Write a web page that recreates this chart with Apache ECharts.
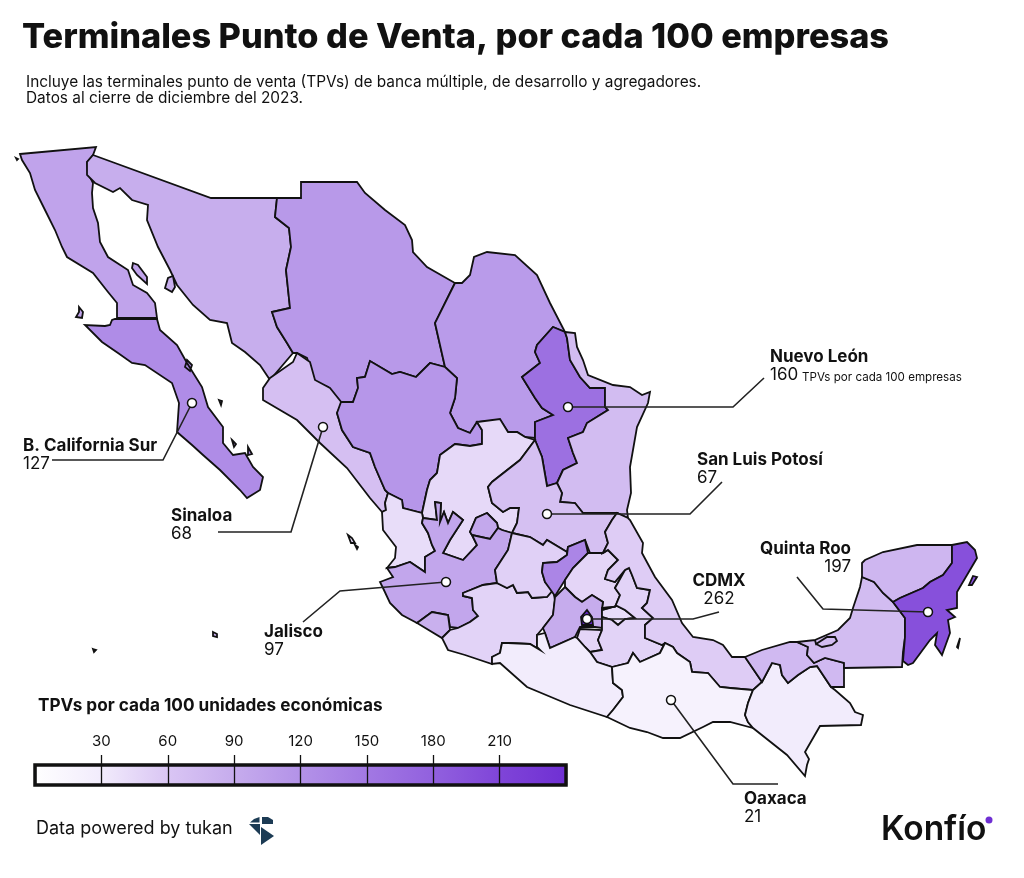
<!DOCTYPE html>
<html>
<head>
<meta charset="utf-8">
<title>Terminales Punto de Venta</title>
<script src="https://cdn.jsdelivr.net/npm/echarts@6/dist/echarts.min.js"></script>
<style>
  html, body { margin: 0; background: #fff; }
  #chart { width: 1024px; height: 878px; }
</style>
</head>
<body>
<div id="chart"></div>
<script>
const stateNames = ["Baja California", "Baja California Sur", "Sonora", "Chihuahua", "Coahuila", "Nuevo León", "Tamaulipas", "Sinaloa", "Durango", "Zacatecas", "Nayarit", "Aguascalientes", "San Luis Potosí", "Jalisco", "Colima", "Michoacán", "Guanajuato", "Querétaro", "Hidalgo", "México", "Morelos", "Tlaxcala", "Puebla", "Veracruz", "Guerrero", "Oaxaca", "Chiapas", "Tabasco", "Campeche", "Yucatán", "Quintana Roo", "CDMX"]
const stateValues = [100, 127, 88, 112, 110, 160, 72, 68, 115, 45, 42, 95, 67, 97, 85, 50, 52, 135, 48, 90, 48, 42, 50, 55, 30, 21, 30, 75, 72, 78, 197, 262]

const calloutNames = ["Nuevo León", "San Luis Potosí", "Quinta Roo", "CDMX", "B. California Sur", "Sinaloa", "Jalisco", "Oaxaca"]
const calloutValues = [160, 67, 197, 262, 127, 68, 97, 21]

const legendTicks = [30, 60, 90, 120, 150, 180, 210]
const scaleColors = ["#ffffff", "#f2ecfc", "#dac6f4", "#c6aced", "#b392e8", "#a278e3", "#9160de", "#7f44d8", "#6f2fd3", "#6528cc"]

// contornos de los estados, en pixeles de la imagen
const shapes = {
  "Baja California": [
    [[20,154],[96,147],[93,155],[87,162],[88,173],[93,183],[92,193],[93,208],[98,223],[100,242],[108,257],[128,270],[133,285],[147,293],[155,303],[157,318],[117,318],[117,303],[108,292],[93,273],[67,257],[62,247],[55,230],[45,210],[35,190],[30,173],[22,160]],
    [[133,263],[138,265],[147,277],[147,284],[137,275],[132,268]],
    [[79,307],[83,312],[82,318],[76,317],[79,312]],
    [[16,158],[17,157],[18,159],[17,160]]
  ],
  "Baja California Sur": [
    [[115,319],[157,319],[160,330],[177,345],[187,363],[202,387],[208,407],[223,427],[223,443],[233,455],[245,453],[253,467],[263,477],[260,490],[247,498],[240,490],[220,470],[203,455],[192,445],[177,432],[179,403],[172,383],[145,365],[132,363],[118,353],[102,342],[85,325],[105,326],[110,325],[112,320]],
    [[187,360],[192,365],[190,371],[185,367]],
    [[232,440],[236,444],[234,447]],
    [[248,447],[252,454],[248,455]],
    [[219,400],[222,401],[221,405]]
  ],
  "Sonora": [
    [[93,155],[211,198],[277,198],[275,217],[289,228],[291,247],[286,270],[290,308],[272,312],[277,327],[287,343],[293,353],[270,380],[260,365],[245,352],[232,343],[227,323],[210,320],[193,305],[177,285],[170,270],[158,247],[147,220],[148,205],[132,200],[120,188],[113,192],[95,183],[87,175],[87,162]],
    [[173,276],[175,287],[172,292],[165,288],[168,278]]
  ],
  "Chihuahua": [
    [[277,198],[301,198],[301,182],[357,182],[365,193],[385,210],[405,225],[412,240],[413,252],[427,267],[455,283],[435,323],[445,367],[430,363],[416,377],[400,372],[392,374],[370,361],[365,377],[357,378],[358,388],[353,402],[341,402],[328,387],[315,382],[307,358],[297,353],[293,353],[287,343],[277,327],[272,312],[290,308],[286,270],[291,247],[289,228],[275,217]]
  ],
  "Coahuila": [
    [[455,283],[462,283],[470,275],[474,257],[487,252],[515,255],[537,275],[550,303],[565,332],[553,327],[537,345],[535,352],[540,363],[522,377],[535,398],[542,408],[553,415],[535,422],[535,438],[525,437],[517,432],[508,432],[500,420],[477,422],[470,433],[458,428],[450,413],[455,398],[457,378],[445,367],[435,323]]
  ],
  "Nuevo León": [
    [[553,327],[565,332],[567,338],[570,360],[580,377],[590,388],[605,388],[605,407],[608,410],[587,423],[583,432],[568,438],[573,453],[577,463],[563,470],[557,483],[547,486],[542,457],[535,440],[535,422],[553,415],[542,408],[535,398],[522,377],[540,363],[535,352],[537,345]]
  ],
  "Tamaulipas": [
    [[565,332],[575,333],[577,347],[583,360],[588,375],[613,385],[630,387],[642,395],[650,392],[648,403],[637,427],[630,467],[631,493],[627,510],[628,518],[617,513],[583,513],[575,503],[560,502],[562,493],[557,483],[563,470],[577,463],[573,453],[568,438],[583,432],[587,423],[608,410],[605,407],[605,388],[590,388],[580,377],[570,360],[567,338]]
  ],
  "Sinaloa": [
    [[270,378],[293,362],[297,353],[310,362],[315,380],[330,388],[342,403],[337,413],[342,430],[353,447],[370,453],[375,467],[385,490],[388,493],[385,503],[386,510],[382,512],[370,498],[347,468],[320,443],[297,420],[263,400],[263,388]]
  ],
  "Durango": [
    [[341,402],[353,402],[358,388],[357,378],[365,377],[370,361],[392,374],[400,372],[416,377],[430,363],[445,367],[457,378],[455,398],[450,413],[458,428],[470,433],[477,422],[482,430],[482,444],[470,446],[455,444],[440,455],[437,473],[430,480],[427,490],[422,513],[403,508],[402,500],[388,493],[385,490],[375,467],[370,453],[353,447],[342,430],[337,413]]
  ],
  "Zacatecas": [
    [[477,422],[500,419],[508,432],[517,432],[525,437],[535,440],[520,460],[492,482],[488,487],[492,503],[503,512],[510,508],[519,508],[517,523],[512,533],[502,530],[498,528],[497,523],[487,513],[476,518],[470,532],[472,535],[477,545],[463,560],[443,553],[450,540],[463,520],[453,512],[448,523],[444,512],[440,522],[441,503],[435,502],[437,520],[423,518],[422,513],[427,490],[430,480],[437,473],[440,455],[455,444],[470,446],[482,444],[482,430]]
  ],
  "Nayarit": [
    [[388,493],[402,500],[403,508],[422,513],[423,518],[422,523],[428,533],[432,545],[435,551],[425,557],[425,572],[410,562],[395,567],[387,568],[395,558],[396,547],[383,530],[382,512],[386,510],[385,503]],
    [[348,535],[352,538],[355,543],[351,543]],
    [[355,545],[358,547],[357,549]]
  ],
  "Aguascalientes": [
    [[487,513],[497,523],[498,528],[490,539],[472,535],[470,532],[476,518]]
  ],
  "San Luis Potosí": [
    [[535,440],[542,457],[547,486],[557,483],[562,493],[560,502],[575,503],[583,513],[617,513],[612,520],[605,532],[608,543],[603,553],[590,553],[585,540],[568,547],[567,552],[547,540],[543,545],[530,537],[512,533],[517,523],[519,508],[510,508],[503,512],[492,503],[488,487],[492,482],[520,460]]
  ],
  "Jalisco": [
    [[380,582],[393,577],[387,568],[395,567],[410,562],[425,572],[425,557],[435,551],[432,545],[428,533],[422,523],[423,518],[437,520],[435,502],[441,503],[440,522],[444,512],[448,523],[453,512],[463,520],[450,540],[443,553],[463,560],[477,545],[472,535],[490,539],[498,528],[502,530],[512,533],[508,550],[495,570],[497,583],[483,585],[463,593],[463,596],[472,598],[473,610],[478,616],[470,622],[458,628],[450,627],[448,615],[432,612],[417,623],[402,615],[390,603],[383,588]]
  ],
  "Colima": [
    [[417,623],[432,612],[448,615],[450,630],[442,638]],
    [[213,632],[217,634],[217,637],[213,636]],
    [[93,649],[96,650],[94,652]]
  ],
  "Michoacán": [
    [[497,583],[507,588],[513,585],[517,593],[528,592],[532,598],[547,597],[553,590],[555,600],[553,615],[543,628],[537,635],[537,647],[540,650],[530,644],[508,643],[502,643],[500,653],[492,657],[492,664],[465,655],[448,650],[442,638],[450,630],[458,628],[470,622],[478,616],[473,610],[472,598],[463,596],[463,593],[483,585]]
  ],
  "Guanajuato": [
    [[512,533],[530,537],[543,545],[547,540],[567,552],[567,555],[557,562],[543,563],[542,572],[545,582],[553,590],[547,597],[532,598],[528,592],[517,593],[513,585],[507,588],[497,583],[495,570],[508,550]]
  ],
  "Querétaro": [
    [[543,563],[557,562],[567,555],[568,547],[585,540],[588,553],[573,568],[565,580],[555,596],[545,582],[542,572]]
  ],
  "Hidalgo": [
    [[588,553],[603,553],[608,550],[618,560],[608,570],[605,579],[615,582],[625,570],[615,588],[620,595],[615,607],[602,608],[603,602],[592,595],[582,602],[575,597],[565,587],[565,580],[573,568]]
  ],
  "México": [
    [[565,587],[575,597],[582,602],[592,595],[603,602],[602,608],[602,628],[595,627],[580,627],[575,637],[550,648],[545,633],[543,628],[553,615],[555,597]]
  ],
  "Morelos": [
    [[580,629],[602,630],[598,640],[602,650],[590,652],[585,647],[577,638]]
  ],
  "Tlaxcala": [
    [[602,610],[617,606],[625,610],[635,618],[625,619],[618,625],[612,620],[602,617]]
  ],
  "Puebla": [
    [[625,570],[629,568],[632,575],[637,588],[650,590],[647,603],[642,608],[653,618],[645,625],[645,638],[662,645],[665,643],[660,653],[640,662],[633,653],[628,663],[612,667],[597,662],[590,652],[602,650],[598,640],[602,630],[602,617],[612,620],[618,625],[625,619],[635,618],[625,610],[617,606],[602,610],[602,608],[615,607],[620,595],[615,588]]
  ],
  "Veracruz": [
    [[617,513],[628,518],[630,520],[643,543],[642,553],[655,577],[672,600],[682,623],[693,637],[713,640],[723,645],[732,657],[745,657],[762,682],[753,690],[730,688],[720,687],[708,673],[692,672],[690,662],[677,653],[673,647],[665,643],[662,645],[645,638],[645,625],[653,618],[642,608],[647,603],[650,590],[637,588],[632,575],[629,568],[625,570],[615,582],[605,579],[608,570],[618,560],[608,550],[603,553],[608,543],[605,532],[612,520]]
  ],
  "Guerrero": [
    [[492,664],[492,657],[500,653],[502,643],[508,643],[530,644],[540,650],[537,647],[537,635],[545,633],[550,648],[575,637],[577,638],[585,647],[590,652],[597,662],[612,667],[613,683],[622,690],[623,697],[613,710],[607,717],[570,705],[527,687],[500,663]]
  ],
  "Oaxaca": [
    [[612,667],[628,663],[633,653],[640,662],[660,653],[665,643],[673,647],[677,653],[690,662],[692,672],[708,673],[720,687],[730,688],[753,690],[748,703],[745,715],[748,722],[753,728],[730,722],[713,722],[703,727],[680,738],[663,738],[647,732],[630,728],[607,717],[613,710],[623,697],[622,690],[613,683]]
  ],
  "Chiapas": [
    [[753,690],[762,682],[772,663],[780,665],[782,675],[788,683],[798,675],[810,667],[817,666],[831,687],[835,690],[850,703],[855,712],[863,715],[861,725],[820,726],[805,752],[809,759],[807,765],[805,776],[787,755],[753,728],[748,722],[745,715],[748,703]]
  ],
  "Tabasco": [
    [[745,657],[762,650],[790,642],[797,642],[808,647],[807,655],[814,663],[825,658],[844,663],[844,687],[831,687],[817,666],[810,667],[798,675],[788,683],[782,675],[780,665],[772,663],[762,682]]
  ],
  "Campeche": [
    [[797,642],[815,640],[816,644],[827,637],[835,637],[837,641],[832,645],[822,647],[816,644],[815,640],[838,630],[850,618],[853,608],[860,587],[862,577],[874,582],[883,593],[893,602],[905,618],[905,637],[903,652],[902,667],[844,668],[844,663],[825,658],[814,663],[807,655],[808,647]]
  ],
  "Yucatán": [
    [[862,563],[865,560],[883,552],[917,545],[952,545],[952,563],[943,575],[930,582],[923,588],[900,598],[893,602],[883,593],[874,582],[862,577]]
  ],
  "Quintana Roo": [
    [[952,545],[967,542],[975,550],[977,558],[967,575],[957,592],[957,608],[947,610],[955,617],[948,620],[950,633],[942,655],[935,645],[937,633],[930,640],[913,663],[908,665],[903,661],[905,637],[905,618],[893,602],[900,598],[923,588],[930,582],[943,575],[952,563]],
    [[972,585],[977,577],[973,576],[969,585]],
    [[960,638],[961,639],[958,648],[957,647]]
  ],
  "CDMX": [
    [[587,610],[592,617],[593,625],[582,625],[581,617]]
  ]
}

// marcador del estado y linea guia de cada etiqueta
const calloutPoints = [[568,407],[547,514],[928,612],[587,619],[192,403],[323,427],[446,582],[671,700]]
const calloutLines = [
  [[568,407],[733,407],[764,378]],
  [[547,514],[690,514],[722,482]],
  [[928,612],[823,609],[797,577]],
  [[587,619],[693,619],[719,612]],
  [[192,403],[163,460],[52,460]],
  [[323,427],[291,532],[218,532]],
  [[446,582],[340,591],[303,622]],
  [[671,700],[733,784],[778,784]]
]
const calloutText = [[770,357,"left"],[697,460,"left"],[851,549,"right"],[719,581,"center"],[23,446,"left"],[171,516,"left"],[264,632,"left"],[744,799,"left"]]

const features = stateNames.map(name => ({
  type: "Feature",
  properties: { name },
  geometry: {
    type: "MultiPolygon",
    coordinates: shapes[name].map(ring => [ring])
  }
}))
echarts.registerMap("mexico", { type: "FeatureCollection", features })

const fontName = "Inter"
const ink = "#111111"

const txt = (text, x, y, size, weight, align) => ({
  type: "text",
  x, y,
  silent: true,
  z: 20,
  style: {
    text,
    fill: ink,
    fontFamily: fontName,
    fontSize: size,
    fontWeight: weight,
    align: align || "left",
    verticalAlign: "middle"
  }
})

const calloutGraphics = []
calloutNames.forEach((name, i) => {
  const [x, y, align] = calloutText[i]
  calloutGraphics.push(txt(name, x, y, 17, 700, align))
  calloutGraphics.push(txt(String(calloutValues[i]), x, y + 18, 17, 400, align))
})

const poly = (points, fill) => ({
  type: "polygon",
  silent: true,
  shape: { points },
  style: { fill }
})

const chart = echarts.init(document.getElementById("chart"), null, { renderer: "canvas" })
chart.setOption({
  animation: false,
  backgroundColor: "#ffffff",
  visualMap: {
    show: false,
    type: "continuous",
    seriesIndex: 0,
    min: 0,
    max: 270,
    inRange: { color: scaleColors }
  },
  geo: {
    map: "mexico",
    silent: true,
    roam: false,
    aspectScale: 1,
    projection: { project: p => p, unproject: p => p },
    boundingCoords: [[0, 0], [1024, 878]],
    left: 0, top: 0, width: 1024, height: 878,
    itemStyle: { borderColor: ink, borderWidth: 1.8 },
    emphasis: { disabled: true },
    label: { show: false }
  },
  // la barra de la escala y, encima, la franja de marcas con sus numeros
  grid: [
    {
      show: true,
      left: 35, top: 765, width: 531, height: 20,
      borderColor: ink,
      borderWidth: 3.5,
      backgroundColor: new echarts.graphic.LinearGradient(0, 0, 1, 0,
        scaleColors.slice(0, 9).map((color, i) => ({ offset: i / 8, color })))
    },
    { left: 35, top: 755, width: 531, height: 10 }
  ],
  xAxis: [
    {
      gridIndex: 0,
      type: "value",
      min: 0,
      max: 240,
      interval: 30,
      axisLine: { show: false },
      axisTick: { show: false },
      axisLabel: { show: false },
      splitLine: { show: true, lineStyle: { color: ink, width: 1.3 } }
    },
    {
      gridIndex: 1,
      type: "value",
      position: "top",
      min: 0,
      max: 240,
      interval: 30,
      axisLine: { show: false },
      axisTick: { show: false },
      axisLabel: { customValues: legendTicks, margin: 6, color: ink, fontFamily: fontName, fontSize: 15 },
      splitLine: { show: true, showMinLine: false, showMaxLine: false, lineStyle: { color: ink, width: 1.3 } }
    }
  ],
  yAxis: [
    { gridIndex: 0, type: "value", show: false },
    { gridIndex: 1, type: "value", show: false }
  ],
  series: [
    {
      type: "map",
      geoIndex: 0,
      silent: true,
      data: stateNames.map((name, i) => ({ name, value: stateValues[i] }))
    },
    {
      type: "lines",
      coordinateSystem: "geo",
      polyline: true,
      silent: true,
      z: 5,
      lineStyle: { color: "#222222", width: 1.6, opacity: 1 },
      data: calloutLines.map(coords => ({ coords }))
    },
    {
      type: "scatter",
      coordinateSystem: "geo",
      silent: true,
      z: 6,
      symbolSize: 9,
      itemStyle: { color: "#ffffff", borderColor: ink, borderWidth: 1.5, opacity: 1 },
      data: calloutPoints
    }
  ],
  graphic: [
    txt("Terminales Punto de Venta, por cada 100 empresas", 22, 38, 34.3, 800),
    txt("Incluye las terminales punto de venta (TPVs) de banca múltiple, de desarrollo y agregadores.", 26, 82, 15.4, 400),
    txt("Datos al cierre de diciembre del 2023.", 26, 98, 15.4, 400),
    ...calloutGraphics,
    txt("TPVs por cada 100 empresas", 802, 378, 11.6, 400),
    txt("TPVs por cada 100 unidades económicas", 38, 706, 17.2, 700),
    txt("Data powered by tukan", 36, 829, 18, 400),
    poly([[262,817],[268,817],[273,820],[273,824],[262,824]], "#1c3b54"),
    poly([[254,819],[259.5,817],[259.5,822.5],[250,822.5]], "#1c3b54"),
    poly([[249,824],[260,824],[260,835]], "#1c3b54"),
    poly([[261,827],[274,836],[261,845]], "#1c3b54"),
    txt("Konfío", 881, 830, 33.5, 600),
    { type: "circle", silent: true, z: 20, shape: { cx: 989, cy: 820, r: 3.5 }, style: { fill: "#6f2fd3" } }
  ]
})
</script>
</body>
</html>
